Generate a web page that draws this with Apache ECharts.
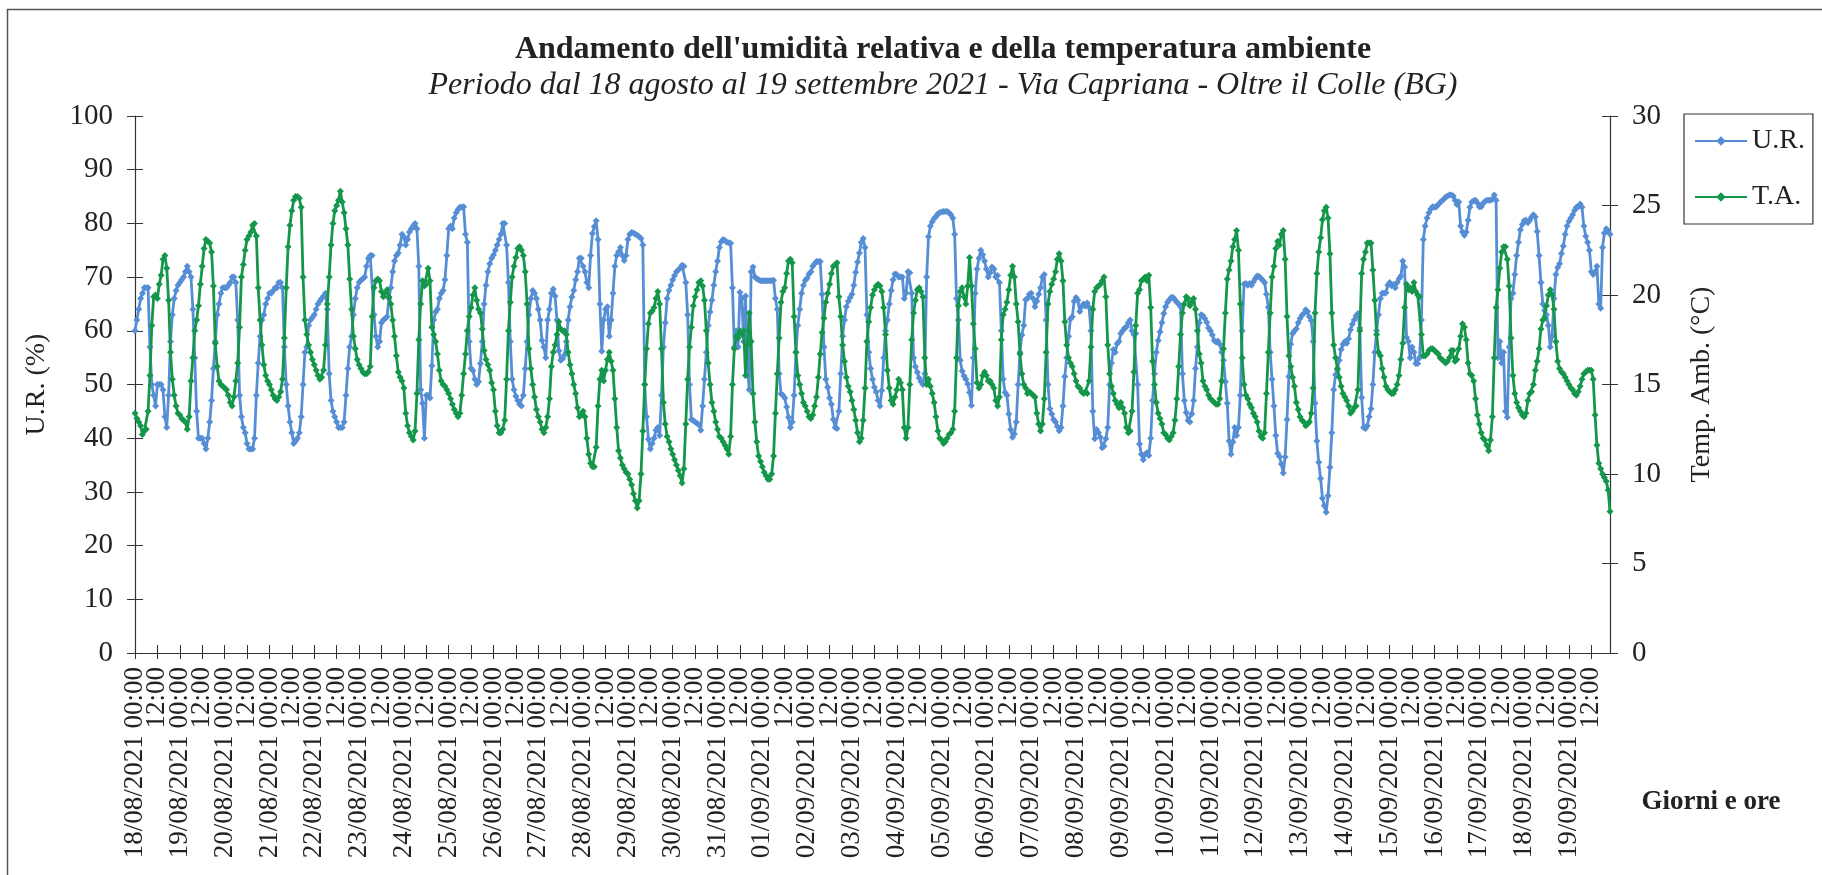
<!DOCTYPE html>
<html>
<head>
<meta charset="utf-8">
<title>Andamento UR e TA</title>
<script src="https://cdn.jsdelivr.net/npm/echarts@6/dist/echarts.min.js"></script>
<style>
  html, body { margin: 0; padding: 0; background: #fff; }
  #chart { width: 1822px; height: 875px; }
</style>
</head>
<body>
<div id="chart"></div>
<script>
// giorni della campagna di misura (una riga di dati orari per giorno)
const days = [
  '18/08/2021', '19/08/2021', '20/08/2021', '21/08/2021', '22/08/2021', '23/08/2021', '24/08/2021',
  '25/08/2021', '26/08/2021', '27/08/2021', '28/08/2021', '29/08/2021', '30/08/2021', '31/08/2021',
  '01/09/2021', '02/09/2021', '03/09/2021', '04/09/2021', '05/09/2021', '06/09/2021', '07/09/2021',
  '08/09/2021', '09/09/2021', '10/09/2021', '11/09/2021', '12/09/2021', '13/09/2021', '14/09/2021',
  '15/09/2021', '16/09/2021', '17/09/2021', '18/09/2021', '19/09/2021'
]

// umidità relativa (%), valori orari
const urValues = [
  60, 62, 64, 66, 67, 68, 68, 68, 57, 50, 48, 46, 50, 50, 50, 49, 44, 42, 48, 58, 63, 66, 67.5, 68.5,
  69, 69.5, 70, 71, 72, 71, 70, 64, 55, 45, 40, 40, 40, 39, 38, 40, 43, 47, 53, 58, 63, 65, 67, 68,
  68, 68, 68.5, 69, 70, 70, 69, 62, 48, 44, 42, 41, 39, 38, 38, 38, 40, 48, 54, 59, 62, 63, 65, 66,
  67, 67, 67.5, 68, 68, 69, 69, 68, 57, 50, 46, 43, 41, 39, 39.5, 40, 41, 44, 50, 56, 57, 61, 62, 62.5,
  63, 64, 65, 65.5, 66, 66.5, 67, 64, 52, 47, 45, 44, 43, 42, 42, 42, 43, 48, 53, 57, 59, 63, 66, 68,
  69, 69.4, 69.7, 70, 72, 73.5, 74, 74, 63, 59, 57, 58, 61.5, 62, 62.3, 62.6, 66, 68, 71, 73, 74, 74.5, 76, 78,
  77.5, 76, 77, 78.4, 79, 79.5, 80, 79, 72, 49, 46.5, 40, 48, 48, 47.5, 53.5, 62, 63.5, 64, 66, 67, 67.5, 69.5, 74,
  79, 79.5, 79, 81, 82, 82.6, 83, 83, 83.1, 78, 76.5, 58, 53, 52.6, 51, 50, 50.5, 53.9, 58, 65, 68.5, 71, 72.5, 73.5,
  74.1, 75, 76, 77, 78, 80, 80, 76, 69, 58, 51, 49, 47.8, 47, 46.3, 46, 48, 53, 58, 63, 66, 67.5, 67, 66,
  64, 62, 58.2, 57, 55, 62, 64, 67, 67.8, 66.5, 62, 56.3, 54.5, 54.8, 55.5, 58, 62, 64.5, 66.3, 67.5, 69.5, 71, 73.5, 73.5,
  72, 71, 69, 68, 74, 78.1, 79.4, 80.5, 77, 65, 56.2, 62, 64, 64.5, 59, 62, 67, 72, 74, 74.7, 75.5, 74, 73.1, 74,
  77, 78, 78.3, 78.2, 78, 77.8, 77.5, 77.2, 76, 50, 44, 39.8, 38, 39, 40, 41.5, 42, 40.5, 48, 57, 61.5, 66, 67.5, 68.5,
  69.5, 70.3, 71, 71.3, 71.7, 72.2, 72, 69, 63, 50, 43.5, 43.3, 43, 42.8, 42.5, 41.5, 46, 51, 56, 61, 63.5, 65.7, 68.5, 71,
  73, 75.5, 76.6, 77, 76.8, 76.5, 76.4, 76.3, 68, 57, 60, 57, 67.2, 66, 58, 66.5, 53, 49, 71, 71.9, 70, 69.7, 69.5, 69.3,
  69.3, 69.3, 69.3, 69.3, 69.3, 69.3, 69.4, 66, 64, 52, 48.3, 48, 47.5, 45.8, 43.9, 42, 43, 48, 56, 61, 64, 67, 68.5, 69.4,
  69.8, 70.6, 71, 72, 72.5, 72.9, 72.9, 72.9, 66.8, 57, 51, 49.5, 47.5, 46.3, 43.5, 42, 41.8, 45, 52, 59, 62, 64.5, 65.5, 66.2,
  66.8, 68.5, 70.9, 72.8, 74.5, 76.5, 77.2, 75.5, 63, 56, 53, 51, 49.5, 48.6, 47, 46, 48.9, 55, 60, 62, 65, 67.5, 69.5, 70.6,
  70.5, 70, 70, 70, 66, 67, 71, 70.8, 67, 55, 53.3, 52.3, 51.2, 50.5, 50, 52, 70, 77.5, 79.5, 80.3, 80.9, 81.3, 81.8, 82,
  82.1, 82.2, 82.2, 82.2, 82, 81.6, 81, 78, 66, 62, 54.5, 52.5, 51.6, 51, 50.1, 48.5, 46.1, 55, 67, 71.5, 73.5, 75, 74.2, 73,
  71.5, 70, 70.8, 71.9, 71.5, 70, 70.3, 69, 60, 51, 48.5, 48, 44.5, 41.6, 40.2, 40.8, 43, 50, 56, 59.2, 61, 65.8, 66, 66.8,
  67, 66, 64.5, 65.5, 66.8, 68, 70, 70.5, 62, 50, 45.5, 44.5, 43.5, 43, 42.2, 41.4, 42, 46, 51.5, 55, 59, 62.2, 62.6, 65.5,
  66.2, 65.7, 63.6, 64.5, 65, 64.6, 65.2, 64.4, 60, 45, 39.9, 41.6, 41, 40.2, 38.2, 38.5, 39.9, 42, 50, 54, 56.5, 56, 57.6, 58,
  59.5, 60, 60.5, 60.7, 61.5, 62, 60, 59.3, 59.5, 50, 38.9, 37, 36, 37, 37.3, 36.8, 40, 47, 52, 56, 58.2, 59.8, 61.5, 63.2,
  64.5, 65.3, 65.8, 66.2, 66.2, 65.8, 65.3, 65, 64.5, 52, 47, 44.8, 43.3, 43, 44.5, 47, 53, 57, 61.5, 63, 62.8, 62.3, 61.6, 60.5,
  60, 59.2, 58.2, 57.9, 58.1, 57.5, 56, 54.5, 50.5, 46.5, 39.5, 37, 39.3, 42, 40.5, 42, 48, 60, 68.7, 68.8, 68.5, 68.8, 68.5, 69.1,
  69.7, 70.2, 70.1, 69.8, 69.4, 69, 66.8, 64.4, 56, 51, 46, 40.5, 37.2, 36.6, 35.2, 33.5, 36.5, 43.5, 51.5, 57.5, 59.5, 60, 60.4, 61.5,
  62.3, 62.9, 63.2, 63.9, 63.6, 62.6, 61.9, 58, 46.5, 39.5, 35.5, 32.5, 28.8, 27.4, 26.2, 29.3, 34.6, 41, 49, 51.8, 52.7, 54.5, 56.5, 57.5,
  58, 57.7, 58.5, 60.2, 61.2, 62, 62.8, 63.2, 60.5, 47.6, 42, 41.8, 42.3, 44, 45.5, 50, 56, 60, 63, 66, 67, 67, 67.1, 68.5,
  69, 68.4, 68.6, 68, 69, 69.7, 70.2, 73, 71.9, 58.8, 58, 55, 57, 56, 53.9, 53.9, 55, 62, 77, 79.5, 81, 82, 82.7, 83.1,
  83, 83.1, 83.5, 83.9, 84.2, 84.5, 84.9, 85.1, 85.3, 85.3, 85.1, 84.3, 83.5, 84, 79.5, 78.4, 77.8, 78.4, 80.6, 83, 84, 84.2, 84.3, 83.8,
  83.1, 83.1, 83.7, 84.1, 84.3, 84.3, 84.3, 84.5, 85.3, 84.3, 55, 58, 54, 56, 45, 43.9, 57, 66, 67, 70.5, 74, 76.5, 78.8, 79.8,
  80.5, 80.6, 80.1, 80.6, 81.2, 81.6, 81.2, 78.5, 74, 69, 65, 63.8, 63, 61, 57, 59, 66, 70.5, 71.8, 72.5, 74.4, 75.8, 78, 79.5,
  80.4, 81, 81.6, 82.4, 83, 83.1, 83.6, 83, 79.5, 77.6, 76.5, 75, 71, 70.5, 71, 72, 65, 64.2, 75.5, 78.2, 79, 78.6, 78
]

// temperatura ambiente (°C), valori orari
const taValues = [
  13.4, 13.1, 12.9, 12.7, 12.2, 12.4, 12.5, 13.5, 15.5, 18.3, 19.9, 20, 19.8, 20.6, 21.1, 22, 22.2, 21.5, 19.7, 16.8, 15.3, 14.4, 13.8, 13.4,
  13.3, 13.1, 13, 12.9, 12.5, 13.2, 15.2, 16.5, 18, 18.6, 19.4, 20.6, 21.6, 22.6, 23.1, 23, 22.9, 22.4, 20.5, 17.3, 16, 15.2, 15, 14.9,
  14.8, 14.7, 14.4, 14, 13.8, 14.3, 15.2, 16.2, 18.2, 21, 21.7, 22.5, 23.1, 23.3, 23.5, 23.9, 24, 23.3, 20.4, 18.6, 17.2, 16.1, 15.5, 15.2,
  15, 14.7, 14.4, 14.2, 14.1, 14.3, 14.6, 15.3, 17.6, 20.4, 22.7, 23.9, 24.7, 25.3, 25.5, 25.5, 25.4, 24.9, 21, 18.6, 17.8, 17.2, 16.8, 16.4,
  16.1, 15.8, 15.5, 15.3, 15.4, 15.8, 17.2, 19.5, 21, 22.8, 24, 24.7, 25, 25.3, 25.8, 25.2, 24.6, 23.7, 22.8, 20.9, 19.2, 17.7, 17, 16.4,
  16.1, 15.9, 15.7, 15.6, 15.6, 15.7, 16, 18.8, 20.4, 20.8, 20.9, 20.8, 20.2, 19.9, 20.1, 20.3, 19.9, 19.5, 18.6, 17.7, 16.6, 15.7, 15.4, 15.2,
  14.8, 13.4, 12.7, 12.3, 12.1, 11.9, 12.4, 14.5, 17.5, 19.5, 20.8, 20.5, 20.6, 21.5, 20.8, 18.2, 17.8, 17.4, 16.7, 15.8, 15.2, 15, 14.9, 14.7,
  14.5, 14.2, 13.9, 13.6, 13.4, 13.2, 13.4, 14.4, 15.6, 16.7, 18, 18.8, 19.3, 20, 20.4, 19.7, 19.2, 19, 18.1, 16.9, 16.4, 16.1, 15.8, 15.1,
  14.7, 13.5, 12.7, 12.3, 12.3, 12.5, 13, 15.3, 18, 19.6, 21, 21.6, 22.1, 22.6, 22.7, 22.5, 22.2, 21.3, 19.5, 17, 15.9, 15, 14.3, 13.6,
  13.2, 12.9, 12.5, 12.3, 12.6, 13.2, 14.2, 16, 16.8, 17.2, 17.8, 18.5, 18.1, 18, 18, 17.8, 16.8, 16.1, 15.6, 15, 14.5, 13.7, 13.2, 13.3,
  13.5, 13.2, 12, 11.1, 10.6, 10.4, 10.4, 11.5, 13.8, 15.3, 15.8, 15.2, 15.8, 16.4, 16.8, 16.3, 15.8, 14.2, 12.6, 11.3, 10.9, 10.5, 10.3, 10.1,
  10, 9.7, 9.4, 8.9, 8.5, 8.1, 8.5, 10, 12.4, 15, 17, 18.4, 19, 19.1, 19.3, 19.8, 20.2, 19.5, 17, 14, 12.8, 12.1, 11.8, 11.4,
  11.1, 10.8, 10.5, 10.2, 9.9, 9.5, 10.3, 12.8, 15.3, 17.1, 18.2, 19.4, 19.9, 20.3, 20.7, 20.8, 20.5, 19.7, 18, 16.2, 15, 14, 13.5, 12.9,
  12.5, 12.1, 12, 11.8, 11.6, 11.4, 11.1, 12.1, 15, 17, 17.7, 17.6, 18, 17.8, 18, 15.5, 17.2, 19, 17.4, 14.5, 12.9, 11.8, 11, 10.7,
  10.4, 10.1, 9.9, 9.7, 9.7, 10, 11, 13.4, 15.6, 17.6, 19.6, 20.2, 20.4, 21.2, 21.9, 22, 21.8, 18.8, 16.8, 15.5, 15, 14.5, 14, 13.8,
  13.5, 13.2, 13.1, 13.3, 13.8, 14.3, 15.4, 16.7, 17.9, 18.7, 19.6, 20.1, 20.6, 21.2, 21.6, 21.7, 21.8, 19.9, 18.8, 17.2, 16.3, 15.4, 14.9, 14.6,
  14.1, 13.6, 13, 12.3, 11.8, 12, 13, 14.8, 17.4, 18.5, 19.3, 20, 20.3, 20.5, 20.6, 20.5, 20.2, 19.3, 17.8, 15.8, 14.8, 14.1, 13.9, 14.3,
  14.7, 15.3, 15.1, 14.7, 12.6, 12, 12.6, 15, 17.5, 19, 19.7, 20.3, 20.4, 20.2, 19.9, 16.5, 15, 15.3, 14.9, 14.5, 14, 13.2, 12.4, 12,
  11.9, 11.7, 11.8, 12, 12.2, 12.3, 12.5, 13.5, 16.5, 19.4, 20.2, 20.4, 19.9, 19.5, 20.5, 22.1, 20.5, 18.4, 17, 15.1, 14.8, 15, 15.5, 15.7,
  15.5, 15.2, 15.2, 15, 14.8, 14.1, 13.8, 14.3, 17.5, 18.9, 19.2, 19.6, 20.3, 21.1, 21.6, 21, 19.5, 18.5, 16.7, 15.6, 15, 14.8, 14.5, 14.6,
  14.5, 14.4, 14.3, 13.4, 12.8, 12.4, 12.8, 14.2, 16.8, 19.5, 20.2, 20.6, 20.9, 21.3, 22, 22.3, 21.9, 20.8, 18.5, 17.2, 16.5, 16.2, 16, 15.6,
  15.2, 14.9, 14.8, 14.6, 14.5, 14.6, 14.5, 15.2, 17.1, 19.2, 20.2, 20.4, 20.5, 20.6, 20.8, 21, 19.9, 17.2, 15.6, 14.9, 14.5, 14.1, 13.9, 13.7,
  14, 13.7, 13.4, 12.6, 12.3, 12.4, 13.5, 15.7, 18.3, 20.1, 20.3, 20.8, 20.9, 21, 20.8, 21.1, 19.3, 16.3, 15, 14, 13.4, 13.1, 12.8, 12.3,
  12.2, 12, 11.9, 12.1, 12.3, 13, 14.2, 16, 17.8, 19, 19.5, 19.9, 19.8, 19.4, 19.6, 19.8, 19.2, 18, 16.7, 16.2, 15.2, 14.9, 14.7, 14.4,
  14.2, 14.1, 14, 13.9, 13.9, 14.2, 15.2, 17, 19, 20.9, 21.4, 21.9, 22.7, 23.1, 23.6, 22.5, 19.5, 16.5, 15, 14.4, 14.2, 13.9, 13.7, 13.4,
  13.2, 12.9, 12.4, 12.1, 12, 12.3, 14.5, 16.8, 19, 21, 21.6, 22.6, 23, 22.8, 23.4, 23.6, 22, 18.8, 16.6, 16, 15.4, 14.9, 14, 13.6,
  13.2, 13, 12.9, 12.7, 12.8, 12.9, 13.4, 14.8, 19, 21.2, 22.4, 23.2, 24.2, 24.7, 24.9, 24.3, 22.3, 19, 17.2, 16.5, 15.9, 15.4, 14.9, 14.5,
  14.3, 14.1, 13.8, 13.4, 13.5, 13.7, 13.8, 14.7, 18, 21.2, 22, 22.4, 22.9, 22.9, 22.9, 21.4, 19.7, 17.8, 16.8, 16.6, 15.9, 15.4, 14.9, 14.7,
  14.6, 14.5, 14.5, 14.7, 15, 15.5, 16.4, 17.3, 19.3, 20.6, 20.3, 20.4, 20.2, 20.7, 20.2, 20, 19.9, 17.8, 16.6, 16.6, 16.7, 16.9, 17, 17,
  16.9, 16.8, 16.7, 16.5, 16.4, 16.3, 16.2, 16.3, 16.5, 16.9, 16.9, 16.3, 16.4, 17, 17.7, 18.4, 18.2, 17.5, 16.2, 15.6, 15.5, 15.2, 14.2, 13.3,
  12.8, 12.3, 12, 11.9, 11.6, 11.3, 11.9, 13.2, 16.5, 19.3, 20.3, 21.5, 22.4, 22.7, 22.7, 22, 20.5, 17.6, 15.5, 14.5, 14, 13.7, 13.5, 13.3,
  13.2, 13.4, 14.1, 14.5, 14.6, 15, 15.8, 16.3, 17, 18.1, 18.6, 18.7, 19.4, 20, 20.3, 20, 19.2, 17.4, 16.3, 15.9, 15.7, 15.6, 15.4, 15.2,
  15, 14.8, 14.7, 14.5, 14.4, 14.6, 14.9, 15.3, 15.6, 15.7, 15.8, 15.8, 15.8, 15.3, 13.3, 11.6, 10.6, 10.3, 10, 9.8, 9.6, 9.1, 7.9
]

const urTicks = [0, 100, 10]
const taTicks = [0, 30, 5]

// etichette orarie dell'asse x
const hours = ['00', '01', '02', '03', '04', '05', '06', '07', '08', '09', '10', '11',
  '12', '13', '14', '15', '16', '17', '18', '19', '20', '21', '22', '23']
const categories = []
days.forEach(function (d) {
  hours.forEach(function (h) {
    categories.push(d + ' ' + h + ':00')
  })
})
categories.length = urValues.length

const serif = 'Liberation Serif'
const blue = '#558ED5'
const green = '#14974A'
const every12 = function (i) { return i % 12 === 0 }

const chart = echarts.init(document.getElementById('chart'), null, { renderer: 'canvas' })

const option = {
  animation: false,
  backgroundColor: '#fff',
  textStyle: { fontFamily: serif },
  grid: { left: 135, right: 212, top: 116, bottom: 222, containLabel: false },
  legend: {
    orient: 'vertical',
    left: 1684,
    top: 114,
    padding: [13, 8, 13, 10],
    itemGap: 28,
    itemWidth: 52,
    itemHeight: 12,
    borderColor: '#333',
    borderWidth: 1.2,
    textStyle: { fontFamily: serif, fontSize: 28, color: '#222' },
    data: ['U.R.', 'T.A.']
  },
  xAxis: [
    {
      type: 'category',
      data: categories,
      boundaryGap: false,
      axisLine: { lineStyle: { color: '#333', width: 1.2 } },
      axisTick: { interval: every12, length: 6, lineStyle: { color: '#333' } },
      axisLabel: {
        // tutte le categorie: il formatter lascia solo 00:00 e 12:00
        interval: 0,
        rotate: 90,
        margin: 14,
        fontFamily: serif,
        fontSize: 27,
        color: '#222',
        formatter: function (val) {
          const parts = val.split(' ')
          if (parts[1] === '00:00') return val
          if (parts[1] === '12:00') return parts[1]
          return ''
        }
      },
      splitLine: { show: false }
    },
    {
      // tacche interne (incrocio)
      type: 'category',
      data: categories,
      boundaryGap: false,
      position: 'bottom',
      axisLine: { show: false },
      axisTick: { inside: true, interval: every12, length: 8, lineStyle: { color: '#333' } },
      axisLabel: { show: false },
      splitLine: { show: false }
    }
  ],
  yAxis: [
    {
      type: 'value',
      min: urTicks[0], max: urTicks[1], interval: urTicks[2],
      name: 'U.R. (%)',
      nameLocation: 'middle',
      nameRotate: 90,
      nameGap: 84,
      nameTextStyle: { fontFamily: serif, fontSize: 28, color: '#222' },
      axisLine: { show: true, lineStyle: { color: '#333', width: 1.2 } },
      axisTick: { show: true, length: 8, lineStyle: { color: '#333' } },
      axisLabel: { fontFamily: serif, fontSize: 29, color: '#222', margin: 22 },
      splitLine: { show: false }
    },
    {
      type: 'value',
      position: 'right',
      min: taTicks[0], max: taTicks[1], interval: taTicks[2],
      name: 'Temp. Amb. (°C)',
      nameLocation: 'middle',
      nameRotate: 90,
      nameGap: 78,
      nameTextStyle: { fontFamily: serif, fontSize: 28, color: '#222' },
      axisLine: { show: true, lineStyle: { color: '#333', width: 1.2 } },
      axisTick: { show: true, length: 8, lineStyle: { color: '#333' } },
      axisLabel: { fontFamily: serif, fontSize: 29, color: '#222', margin: 22 },
      splitLine: { show: false }
    },
    {
      type: 'value',
      position: 'left',
      min: urTicks[0], max: urTicks[1], interval: urTicks[2],
      axisLine: { show: false },
      axisTick: { show: true, inside: true, length: 8, lineStyle: { color: '#333' } },
      axisLabel: { show: false },
      splitLine: { show: false }
    },
    {
      type: 'value',
      position: 'right',
      min: taTicks[0], max: taTicks[1], interval: taTicks[2],
      axisLine: { show: false },
      axisTick: { show: true, inside: true, length: 8, lineStyle: { color: '#333' } },
      axisLabel: { show: false },
      splitLine: { show: false }
    }
  ],
  series: [
    {
      name: 'U.R.',
      type: 'line',
      xAxisIndex: 0,
      yAxisIndex: 0,
      data: urValues,
      symbol: 'diamond',
      symbolSize: 7,
      showAllSymbol: true,
      lineStyle: { color: blue, width: 2.8 },
      itemStyle: { color: blue },
      z: 2
    },
    {
      name: 'T.A.',
      type: 'line',
      xAxisIndex: 0,
      yAxisIndex: 1,
      data: taValues,
      symbol: 'diamond',
      symbolSize: 7,
      showAllSymbol: true,
      lineStyle: { color: green, width: 2.8 },
      itemStyle: { color: green },
      z: 3
    }
  ],
  graphic: [
    {
      type: 'rect',
      silent: true,
      z: -10,
      shape: { x: 7.5, y: 9.5, width: 1830, height: 900 },
      style: { fill: 'none', stroke: '#555', lineWidth: 1.5 }
    },
    {
      type: 'text',
      x: 943, y: 50,
      style: {
        text: "Andamento dell'umidità relativa e della temperatura ambiente",
        font: 'bold 32px "Liberation Serif"',
        fill: '#222', align: 'center', verticalAlign: 'middle'
      }
    },
    {
      type: 'text',
      x: 943, y: 86,
      style: {
        text: 'Periodo dal 18 agosto al 19 settembre 2021 - Via Capriana - Oltre il Colle (BG)',
        font: 'italic 32px "Liberation Serif"',
        fill: '#222', align: 'center', verticalAlign: 'middle'
      }
    },
    {
      type: 'text',
      x: 1711, y: 802,
      style: {
        text: 'Giorni e ore',
        font: 'bold 27px "Liberation Serif"',
        fill: '#222', align: 'center', verticalAlign: 'middle'
      }
    }
  ]
}

chart.setOption(option)
</script>
</body>
</html>
